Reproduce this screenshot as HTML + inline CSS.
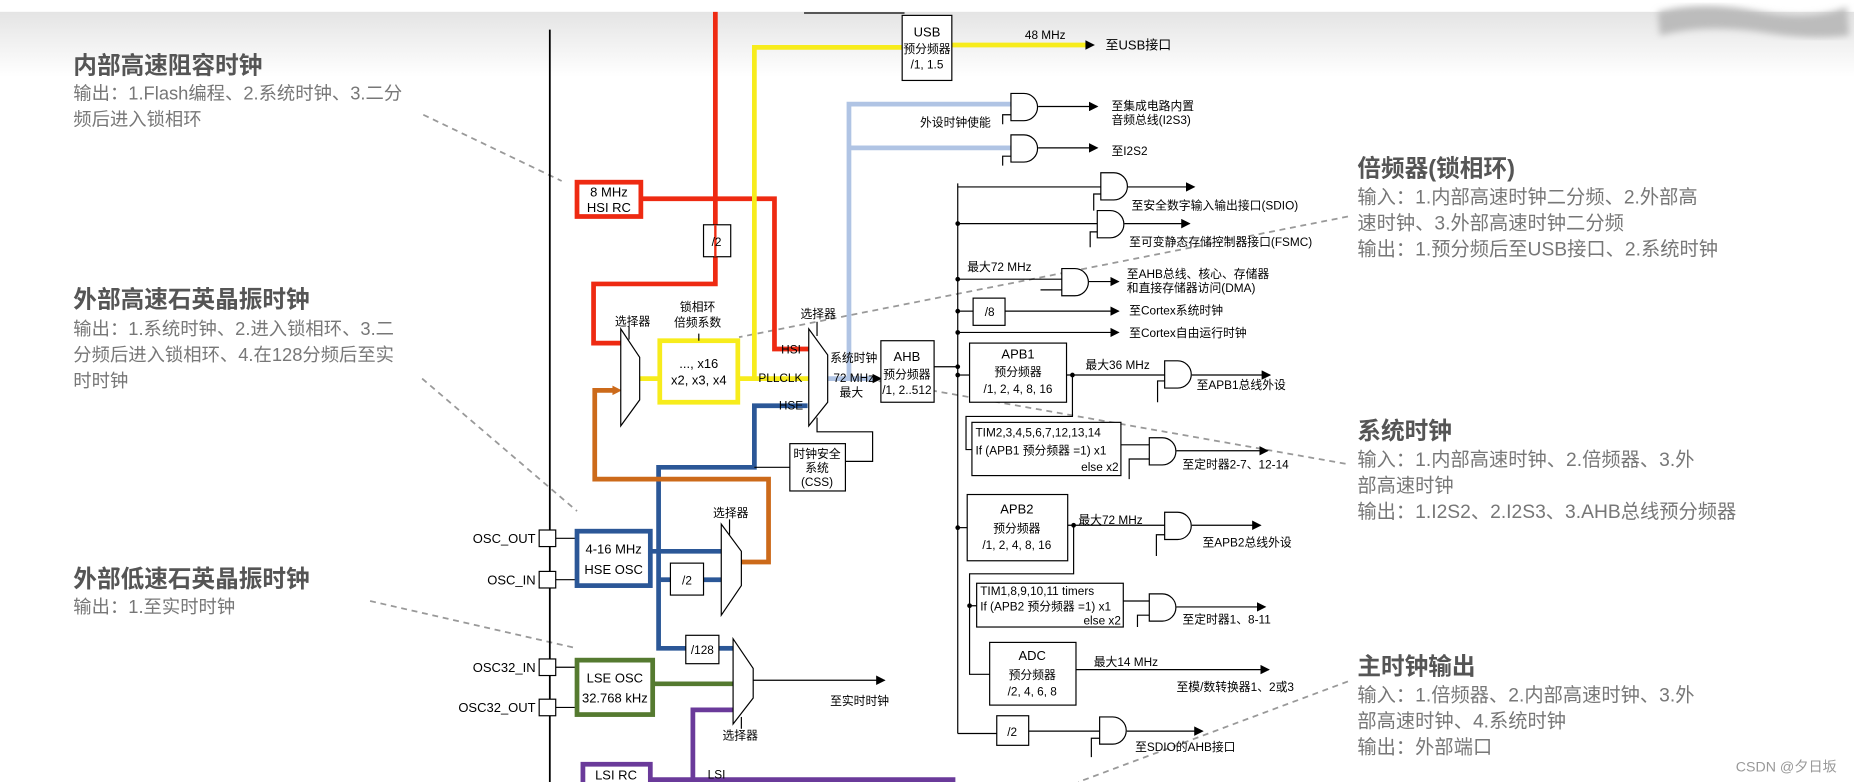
<!DOCTYPE html>
<html><head><meta charset="utf-8"><style>
html,body{margin:0;padding:0;background:#fff;}
svg{display:block;}
.t{font-family:"Liberation Sans","Noto Sans CJK SC",sans-serif;fill:#000;}
.h{font-family:"Liberation Sans","Noto Sans CJK SC",sans-serif;fill:#555;font-weight:bold;font-size:20px;}
.d{font-family:"Liberation Sans","Noto Sans CJK SC",sans-serif;fill:#777;font-size:15.5px;}
.dr{font-family:"Liberation Sans","Noto Sans CJK SC",sans-serif;fill:#777;font-size:16.3px;}
</style></head><body>
<svg width="1854" height="782" viewBox="0 0 1568 661" preserveAspectRatio="none" xmlns="http://www.w3.org/2000/svg">
<defs>
<linearGradient id="g" x1="0" y1="0" x2="0" y2="1"><stop offset="0" stop-color="#e4e4e4"/><stop offset="1" stop-color="#ffffff"/></linearGradient>
<marker id="a" markerWidth="8" markerHeight="8" refX="7" refY="4" orient="auto" markerUnits="userSpaceOnUse"><path d="M0,0 L8,4 L0,8 Z" fill="#000"/></marker>
<filter id="bl"><feGaussianBlur stdDeviation="3"/></filter>
</defs>
<rect x="0" y="10" width="1568" height="55" fill="url(#g)"/>
<path d="M1402,10 Q1440,0 1490,10 Q1530,18 1562,6 L1564,30 Q1530,34 1490,27 Q1440,20 1404,30 Z" fill="#bcbcbc" filter="url(#bl)"/>

<!-- left texts -->
<text class="h" x="62" y="62">内部高速阻容时钟</text>
<text class="d" x="62" y="84">输出：1.Flash编程、2.系统时钟、3.二分</text>
<text class="d" x="62" y="106">频后进入锁相环</text>
<text class="h" x="62" y="260">外部高速石英晶振时钟</text>
<text class="d" x="62" y="283">输出：1.系统时钟、2.进入锁相环、3.二</text>
<text class="d" x="62" y="305">分频后进入锁相环、4.在128分频后至实</text>
<text class="d" x="62" y="327">时时钟</text>
<text class="h" x="62" y="496">外部低速石英晶振时钟</text>
<text class="d" x="62" y="518">输出：1.至实时时钟</text>

<!-- right texts -->
<text class="h" x="1148" y="149">倍频器(锁相环)</text>
<text class="dr" x="1148" y="172">输入：1.内部高速时钟二分频、2.外部高</text>
<text class="dr" x="1148" y="194">速时钟、3.外部高速时钟二分频</text>
<text class="dr" x="1148" y="216">输出：1.预分频后至USB接口、2.系统时钟</text>
<text class="h" x="1148" y="371">系统时钟</text>
<text class="dr" x="1148" y="394">输入：1.内部高速时钟、2.倍频器、3.外</text>
<text class="dr" x="1148" y="416">部高速时钟</text>
<text class="dr" x="1148" y="438">输出：1.I2S2、2.I2S3、3.AHB总线预分频器</text>
<text class="h" x="1148" y="570">主时钟输出</text>
<text class="dr" x="1148" y="593">输入：1.倍频器、2.内部高速时钟、3.外</text>
<text class="dr" x="1148" y="615">部高速时钟、4.系统时钟</text>
<text class="dr" x="1148" y="637">输出：外部端口</text>
<text x="1468" y="652" font-family="Liberation Sans,Noto Sans CJK SC,sans-serif" font-size="12" fill="#999">CSDN @夕日坂</text>

<!-- dashed connectors -->
<g stroke="#999" stroke-width="1.5" stroke-dasharray="5,4" fill="none">
<line x1="358" y1="97" x2="475" y2="153"/>
<line x1="357" y1="320" x2="488" y2="432"/>
<line x1="313" y1="508" x2="488" y2="548"/>
<line x1="1140" y1="183" x2="625" y2="285"/>
<line x1="1138" y1="392" x2="720" y2="318"/>
<line x1="1140" y1="576" x2="912" y2="661"/>
</g>

<!-- main vertical -->
<line x1="465" y1="25" x2="465" y2="661" stroke="#000" stroke-width="1.5"/>
<line x1="680" y1="11" x2="765" y2="11" stroke="#000" stroke-width="1"/>

<!-- pins -->
<g stroke="#000" stroke-width="1" fill="#fff">
<rect x="456" y="448" width="14" height="14"/><rect x="456" y="483" width="14" height="14"/>
<rect x="456" y="557" width="14" height="14"/><rect x="456" y="591" width="14" height="14"/>
<line x1="470" y1="455" x2="487" y2="455"/><line x1="470" y1="490" x2="487" y2="490"/>
<line x1="470" y1="564" x2="487" y2="564"/><line x1="470" y1="598" x2="487" y2="598"/>
</g>
<g class="t" font-size="11" text-anchor="end">
<text x="453" y="459">OSC_OUT</text><text x="453" y="494">OSC_IN</text>
<text x="453" y="568">OSC32_IN</text><text x="453" y="602">OSC32_OUT</text>
</g>

<!-- colored lines -->
<g fill="none" stroke-width="4">
<polyline stroke="#ee2a12" points="605,10 605,240 502,240 502,290 525,290"/>
<polyline stroke="#ee2a12" points="542,168 655,168 655,295 684,295"/>
<polyline stroke="#f7ec1c" points="763,40 638,40 638,320"/>
<polyline stroke="#f7ec1c" points="541,320 558,320"/>
<polyline stroke="#f7ec1c" points="624,320 684,320"/>
<line stroke="#f7ec1c" x1="805" y1="38" x2="920" y2="38"/>
<polyline stroke="#b0c4e4" points="855,88 718,88 718,320 700,320 740,320"/>
<line stroke="#b0c4e4" x1="718" y1="125" x2="855" y2="125"/>
<polyline stroke="#2b5797" points="683,343 638,343 638,395 557,395 557,548 580,548"/>
<line stroke="#2b5797" x1="550" y1="466" x2="610" y2="466"/>
<line stroke="#2b5797" x1="557" y1="490" x2="567" y2="490"/>
<line stroke="#2b5797" x1="595" y1="490" x2="610" y2="490"/>
<line stroke="#2b5797" x1="608" y1="548" x2="620" y2="548"/>
<polyline stroke="#cc6a1a" points="627,475 650,475 650,405 503,405 503,330 520,330"/>
<line stroke="#557a30" x1="552" y1="578" x2="620" y2="578"/>
<polyline stroke="#6a3a9a" points="620,600 586,600 586,659"/>
<line stroke="#6a3a9a" x1="550" y1="659" x2="808" y2="659"/>
</g>
<path d="M518,326 L526,330 L518,334 Z" fill="#cc6a1a"/>
<path d="M738,316 L746,320 L738,324 Z" fill="#000"/>
<path d="M918,34 L926,38 L918,42 Z" fill="#000"/>

<!-- colored boxes -->
<g fill="#fff" stroke-width="4">
<rect x="488" y="154" width="54" height="29" stroke="#ee2a12"/>
<rect x="558" y="288" width="66" height="52" stroke="#f7ec1c"/>
<rect x="488" y="449" width="62" height="46" stroke="#2b5797"/>
<rect x="488" y="558" width="64" height="46" stroke="#557a30"/>
<rect x="493" y="646" width="57" height="20" stroke="#6a3a9a"/>
</g>
<g class="t" font-size="11" text-anchor="middle">
<text x="515" y="166">8 MHz</text><text x="515" y="179">HSI RC</text>
<text x="591" y="311">..., x16</text><text x="591" y="325">x2, x3, x4</text>
<text x="519" y="468">4-16 MHz</text><text x="519" y="485">HSE OSC</text>
<text x="520" y="577">LSE OSC</text><text x="520" y="594">32.768 kHz</text>
<text x="521" y="659">LSI RC</text>
</g>

<!-- black boxes -->
<g fill="#fff" stroke="#000" stroke-width="1">
<rect x="595" y="190" width="23" height="27"/>
<rect x="763" y="13" width="42" height="55"/>
<rect x="745" y="288" width="45" height="52"/>
<rect x="668" y="375" width="47" height="40"/>
<rect x="567" y="476" width="28" height="27"/>
<rect x="580" y="537" width="28" height="24"/>
<rect x="823" y="252" width="27" height="23"/>
<rect x="820" y="290" width="82" height="50"/>
<rect x="822" y="357" width="126" height="45"/>
<rect x="818" y="418" width="85" height="56"/>
<rect x="826" y="493" width="124" height="37"/>
<rect x="837" y="543" width="73" height="53"/>
<rect x="843" y="605" width="27" height="25"/>
</g>
<line x1="605" y1="190" x2="605" y2="217" stroke="#ee2a12" stroke-width="2"/>

<!-- muxes -->
<g fill="#fff" stroke="#000" stroke-width="1">
<path d="M525,278 L541,302 L541,338 L525,360 Z"/>
<path d="M684,278 L700,300 L700,340 L684,360 Z"/>
<path d="M610,443 L627,466 L627,495 L610,520 Z"/>
<path d="M620,540 L637,565 L637,590 L620,612 Z"/>
</g>
<g stroke="#000" stroke-width="1" fill="none">
<line x1="532" y1="276" x2="532" y2="287"/><line x1="591" y1="282" x2="591" y2="288"/>
<line x1="691" y1="272" x2="691" y2="284"/>
<polyline points="691,353 691,365 738,365 738,390 715,390"/>
<line x1="638" y1="395" x2="668" y2="395"/>
<line x1="617" y1="439" x2="617" y2="452"/>
<line x1="627" y1="606" x2="627" y2="616"/>
<line x1="637" y1="575" x2="748" y2="575" marker-end="url(#a)"/>
<line x1="790" y1="310" x2="810" y2="310"/>
<line x1="810" y1="155" x2="810" y2="620"/>
</g>
<g class="t" font-size="10" text-anchor="middle">
<text x="606" y="208">/2</text>
<text x="784" y="31" font-size="11">USB</text><text x="784" y="45">预分频器</text><text x="784" y="58">/1, 1.5</text>
<text x="767" y="305" font-size="11">AHB</text><text x="767" y="320">预分频器</text><text x="767" y="333">/1, 2..512</text>
<text x="691" y="387">时钟安全</text><text x="691" y="399">系统</text><text x="691" y="411">(CSS)</text>
<text x="581" y="494">/2</text><text x="594" y="553">/128</text>
<text x="535" y="275">选择器</text><text x="692" y="269">选择器</text>
<text x="618" y="437">选择器</text><text x="626" y="625">选择器</text>
<text x="590" y="263">锁相环</text><text x="590" y="276">倍频系数</text>
<text x="669" y="299">HSI</text><text x="660" y="323">PLLCLK</text><text x="669" y="346">HSE</text>
<text x="722" y="306">系统时钟</text><text x="722" y="323">72 MHz</text><text x="720" y="335">最大</text>
<text x="884" y="33">48 MHz</text>
<text x="727" y="596">至实时时钟</text>
<text x="606" y="658">LSI</text>
<text x="808" y="107">外设时钟使能</text>
</g>
<text class="t" font-size="11" x="935" y="42">至USB接口</text>

<!-- gates -->
<g fill="#fff" stroke="#000" stroke-width="1">
<path d="M855,79 H866 A11.5,11.5 0 0 1 866,102 H855 Z"/>
<path d="M855,114 H866 A11.5,11.5 0 0 1 866,137 H855 Z"/>
<path d="M931,146 H942 A11.5,11.5 0 0 1 942,169 H931 Z"/>
<path d="M928,178 H939 A11.5,11.5 0 0 1 939,201 H928 Z"/>
<path d="M898,227 H909 A11.5,11.5 0 0 1 909,250 H898 Z"/>
<path d="M985,305 H996 A11.5,11.5 0 0 1 996,328 H985 Z"/>
<path d="M972,370 H983 A11.5,11.5 0 0 1 983,393 H972 Z"/>
<path d="M985,433 H996 A11.5,11.5 0 0 1 996,456 H985 Z"/>
<path d="M972,502 H983 A11.5,11.5 0 0 1 983,525 H972 Z"/>
<path d="M930,606 H941 A11.5,11.5 0 0 1 941,629 H930 Z"/>
</g>
<g stroke="#000" stroke-width="1" fill="none">
<polyline points="848,105 848,97 855,97"/><polyline points="848,140 848,132 855,132"/>
<line x1="878" y1="90" x2="928" y2="90" marker-end="url(#a)"/>
<line x1="878" y1="125" x2="928" y2="125" marker-end="url(#a)"/>
<line x1="810" y1="158" x2="931" y2="158"/><polyline points="925,178 925,164 931,164"/>
<line x1="954" y1="158" x2="1010" y2="158" marker-end="url(#a)"/>
<line x1="810" y1="189" x2="928" y2="189"/><polyline points="922,209 922,196 928,196"/>
<line x1="951" y1="189" x2="1006" y2="189" marker-end="url(#a)"/>
<line x1="810" y1="236" x2="898" y2="236"/><polyline points="880,245 898,245"/>
<line x1="921" y1="238" x2="946" y2="238" marker-end="url(#a)"/>
<line x1="810" y1="263" x2="823" y2="263"/><line x1="850" y1="263" x2="946" y2="263" marker-end="url(#a)"/>
<line x1="810" y1="281" x2="946" y2="281" marker-end="url(#a)"/>
<line x1="810" y1="317" x2="820" y2="317"/>
<line x1="902" y1="317" x2="985" y2="317"/><polyline points="979,340 979,322 985,322"/>
<line x1="1008" y1="317" x2="1074" y2="317" marker-end="url(#a)"/>
<polyline points="907,317 907,352 817,352 817,380 822,380"/>
<line x1="948" y1="376" x2="972" y2="376"/><polyline points="955,405 955,388 972,388"/>
<line x1="995" y1="381" x2="1072" y2="381" marker-end="url(#a)"/>
<line x1="810" y1="446" x2="818" y2="446"/>
<line x1="903" y1="444" x2="985" y2="444"/><polyline points="978,470 978,452 985,452"/>
<line x1="1008" y1="444" x2="1066" y2="444" marker-end="url(#a)"/>
<polyline points="908,444 908,485 820,485 820,512 826,512"/>
<line x1="950" y1="508" x2="972" y2="508"/><polyline points="962,530 962,520 972,520"/>
<line x1="995" y1="513" x2="1070" y2="513" marker-end="url(#a)"/>
<polyline points="820,512 820,570 837,570"/>
<line x1="910" y1="566" x2="1073" y2="566" marker-end="url(#a)"/>
<polyline points="810,620 843,620"/><line x1="870" y1="618" x2="930" y2="618"/>
<polyline points="923,640 923,624 930,624"/>
<line x1="953" y1="618" x2="1017" y2="618" marker-end="url(#a)"/>
</g>
<g fill="#000">
<circle cx="810" cy="189" r="2"/><circle cx="810" cy="236" r="2"/><circle cx="810" cy="263" r="2"/>
<circle cx="810" cy="281" r="2"/><circle cx="810" cy="310" r="2"/><circle cx="810" cy="317" r="2"/>
<circle cx="907" cy="317" r="2"/><circle cx="810" cy="446" r="2"/><circle cx="908" cy="444" r="2"/>
<circle cx="820" cy="512" r="2"/>
</g>
<g class="t" font-size="10">
<text x="940" y="93">至集成电路内置</text><text x="940" y="105">音频总线(I2S3)</text>
<text x="940" y="131">至I2S2</text>
<text x="957" y="177">至安全数字输入输出接口(SDIO)</text>
<text x="955" y="208">至可变静态存储控制器接口(FSMC)</text>
<text x="818" y="229">最大72 MHz</text>
<text x="953" y="235">至AHB总线、核心、存储器</text><text x="953" y="247">和直接存储器访问(DMA)</text>
<text x="955" y="266">至Cortex系统时钟</text><text x="955" y="285">至Cortex自由运行时钟</text>
<text x="918" y="312">最大36 MHz</text><text x="1012" y="329">至APB1总线外设</text>
<text x="1000" y="396">至定时器2-7、12-14</text>
<text x="912" y="443">最大72 MHz</text><text x="1017" y="462">至APB2总线外设</text>
<text x="1000" y="527">至定时器1、8-11</text>
<text x="925" y="563">最大14 MHz</text><text x="995" y="584">至模/数转换器1、2或3</text>
<text x="960" y="635">至SDIO的AHB接口</text>
<text x="825" y="369">TIM2,3,4,5,6,7,12,13,14</text>
<text x="825" y="384">If (APB1 预分频器 =1) x1</text>
<text x="946" y="398" text-anchor="end">else  x2</text>
<text x="829" y="503">TIM1,8,9,10,11 timers</text>
<text x="829" y="516">If (APB2 预分频器 =1) x1</text>
<text x="948" y="528" text-anchor="end">else x2</text>
</g>
<g class="t" font-size="10" text-anchor="middle">
<text x="837" y="267">/8</text>
<text x="861" y="303" font-size="11">APB1</text><text x="861" y="318">预分频器</text><text x="861" y="332">/1, 2, 4, 8, 16</text>
<text x="860" y="434" font-size="11">APB2</text><text x="860" y="450">预分频器</text><text x="860" y="464">/1, 2, 4, 8, 16</text>
<text x="873" y="558" font-size="11">ADC</text><text x="873" y="574">预分频器</text><text x="873" y="588">/2, 4, 6, 8</text>
<text x="856" y="622">/2</text>
</g>
</svg>
</body></html>
